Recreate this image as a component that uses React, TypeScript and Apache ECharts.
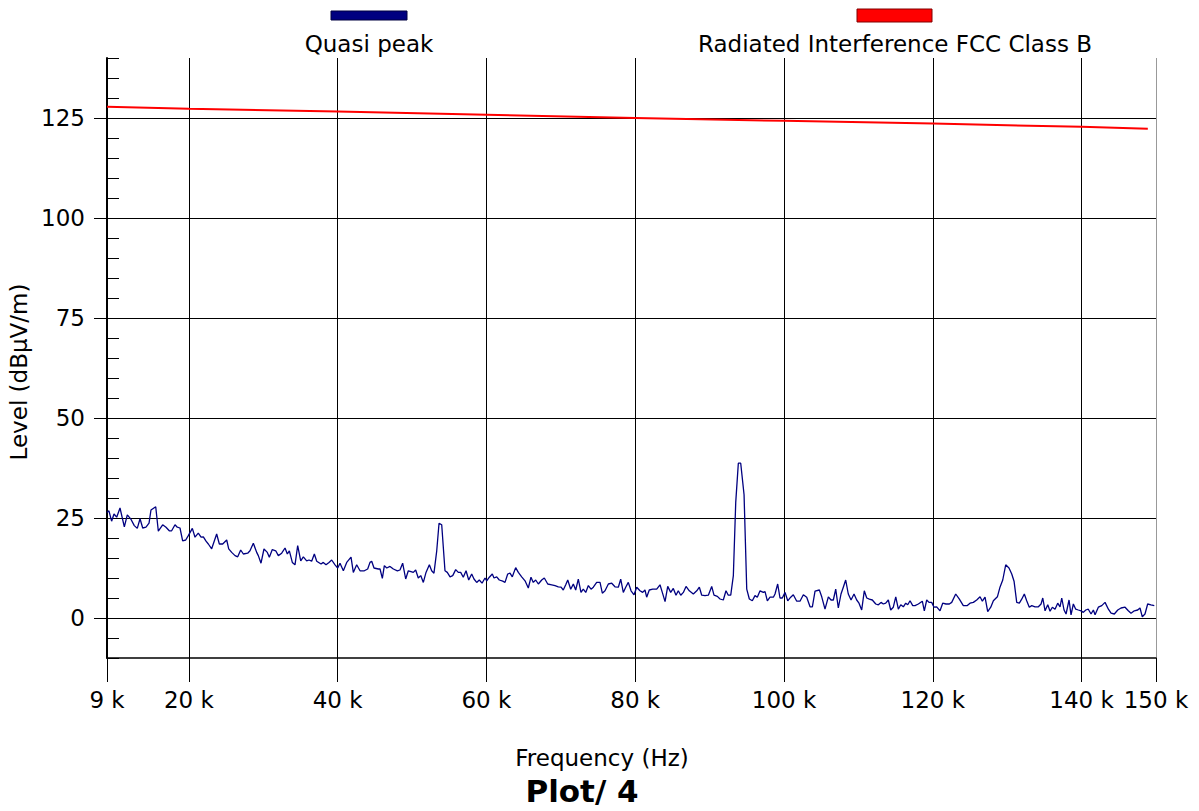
import React, { useEffect, useRef } from "react";
import * as echarts from "echarts";

// Frequency in kHz, level in dBµV/m
const quasiPeak: [number, number][] = [
  [9, 26.4], [9.26, 26.8], [9.62, 24.2], [9.94, 26], [10.3, 25.2], [10.75, 27.5], [11.33, 22.8], [11.73, 25.8], [12.18, 24.8], [12.67, 23.1],
  [13.07, 22.4], [13.44, 24.8], [13.8, 22.5], [14.24, 22.7], [14.65, 23.7], [14.91, 27], [15.55, 27.8], [15.9, 21.7], [16.48, 23.3], [16.93, 22.7],
  [17.37, 21.8], [17.69, 21.8], [18.14, 23.3], [18.45, 22.7], [18.81, 22.5], [19.17, 19.3], [19.58, 19.5], [19.93, 20.6], [20.47, 22.4], [20.83, 20.2],
  [21.27, 21.2], [21.64, 20.2], [21.95, 20.3], [22.31, 19.2], [22.62, 18.5], [23.07, 17.3], [23.74, 21], [24.1, 18.5], [24.55, 18.5], [25.09, 19.5],
  [25.36, 17.3], [25.76, 16.4],
  [26.21, 15.6], [26.57, 15.3], [26.97, 17], [27.33, 16], [27.91, 16.2], [28.22, 16.8], [28.67, 18.7], [29.12, 16.4], [29.34, 15.6], [29.7, 13.7],
  [30.1, 17.25], [30.55, 16.4], [30.82, 15.2], [31.22, 17.1], [31.68, 16.8], [32.03, 15.6], [32.48, 16.2], [32.93, 17.5], [33.24, 16], [33.51, 16.8],
  [33.91, 13.9], [34.27, 13.3], [34.63, 18.1], [35.04, 14.3], [35.39, 15.3], [35.84, 14.3], [36.15, 14.5], [36.51, 14.2], [36.87, 16], [37.19, 14.2],
  [37.77, 13.5], [38.07, 13.9], [38.44, 13.3], [38.84, 13.9], [39.2, 14.5], [39.65, 13.3], [40.01, 12.5], [40.32, 13.7], [40.77, 11.8], [41.22, 13.9],
  [41.8, 15.2], [42.11, 11.4], [42.56, 13.3], [43.01, 11.8], [43.59, 11.8], [44.04, 12.25],
  [44.35, 13.9], [44.58, 14.2], [44.89, 12.5], [45.47, 12.25], [45.7, 12.25], [46.01, 9.9], [46.28, 13.1], [46.6, 12.5], [47.04, 12.9], [47.49, 12.25],
  [48.03, 11.8], [48.38, 12], [48.74, 13.7], [49.15, 9.75], [49.5, 11.8], [49.86, 11.6], [50.17, 11.4], [50.49, 12], [50.84, 10], [51.17, 10.6],
  [51.52, 8.9], [51.88, 11.4], [52.33, 13.3], [52.64, 11.8], [52.95, 11.2], [53.32, 16.8], [53.63, 23.7], [53.99, 23.3], [54.43, 11.8], [54.74, 11.4],
  [55.11, 10.3], [55.47, 10.6], [55.87, 12.1], [56.22, 11.4], [56.54, 11.4], [56.89, 10.2], [57.26, 11.8], [57.62, 9.5], [58.02, 11], [58.33, 9.75],
  [58.69, 8.9], [59.04, 9.5], [59.41, 8.7], [59.81, 10], [60.04, 9.3], [60.39, 10.2], [60.79, 11], [61.02, 10], [61.38, 10.3], [61.73, 9.5],
  [62.19, 9.2],
  [62.5, 8.9], [62.86, 11], [63.17, 11.2], [63.48, 10.3], [63.93, 12.6], [64.29, 11.4], [64.74, 10.3], [65.19, 9.3], [65.63, 7.5], [65.99, 10.2],
  [66.3, 8.9], [66.62, 9.5], [66.98, 8.5], [67.43, 9.5], [67.78, 10], [68.24, 8.5], [68.78, 8.3], [69.22, 8.1], [69.66, 7.8], [70.03, 7.7],
  [70.33, 7], [70.66, 8.3], [70.93, 9.5], [71.33, 7.2], [71.68, 8.5], [72, 7], [72.35, 9.7], [72.71, 6.4], [73.02, 7.2], [73.35, 6.4],
  [73.7, 8.1], [74.06, 7.2], [74.37, 7.7], [74.82, 8.9], [75.27, 8.9], [75.58, 6.2], [75.94, 6.8], [76.39, 8.5], [76.84, 8.7], [77.28, 7.8],
  [77.73, 7.7], [78.05, 9.7], [78.4, 6.4], [78.72, 7.7], [79.07, 8.9], [79.44, 6.8], [79.84, 5.8], [80.2, 7.7],
  [80.64, 6.8], [81, 6.4], [81.31, 7], [81.54, 5.2], [81.89, 7], [82.35, 7.2], [82.89, 7.2], [83.33, 8.3], [83.64, 6.4], [84.01, 4.1],
  [84.37, 7.9], [84.77, 6.4], [85.12, 7.4], [85.48, 5.7], [85.79, 6.8], [86.12, 5.7], [86.47, 6.4], [86.83, 7.9], [87.27, 6.8], [87.81, 6],
  [88.27, 6.8], [88.62, 7.7], [88.94, 5.7], [89.38, 5.6], [89.83, 5.7], [90.28, 7.9], [90.59, 5.7], [91.04, 5.4], [91.4, 4.75], [91.84, 4.5],
  [92.2, 6.8], [92.51, 5.7], [92.84, 5.7], [93.19, 10.6], [93.51, 28.9], [93.86, 38.7], [94.18, 38.7], [94.63, 30.8], [94.99, 7.2], [95.34, 4.75],
  [95.74, 4.3], [96.1, 5.6], [96.41, 5.2], [96.78, 6.8], [97.22, 6.4], [97.45, 6.6], [97.76, 4.3], [98.12, 5.2], [98.57, 5.2],
  [98.79, 6], [99.15, 8.5], [99.46, 5], [99.77, 5], [100.14, 6.4], [100.5, 4.3], [100.9, 5.2], [101.25, 5.8], [101.71, 4.2], [102.15, 4.2],
  [102.6, 5.8], [103.05, 5.2], [103.5, 2.8], [103.81, 2.8], [104.17, 6.7], [104.75, 7], [105.07, 5.3], [105.51, 2.2], [105.96, 5.3], [106.32, 4.5],
  [106.63, 4.5], [106.95, 7.2], [107.3, 2.5], [107.66, 6], [107.97, 7.7], [108.29, 9.5], [108.64, 6], [109.01, 4.5], [109.41, 6], [109.77, 4.5],
  [110.08, 3.7], [110.44, 2], [110.79, 6.8], [111.12, 5], [111.47, 4.7], [111.87, 4.5], [112.33, 3.5], [112.68, 3.3], [113.04, 3.9], [113.35, 3.5],
  [113.67, 3.7], [114.02, 4.5], [114.34, 2], [114.69, 2.7], [115.02, 5.3], [115.37, 2.2], [115.69, 3.3], [116.04, 2.8], [116.36, 3.7], [116.63, 3.3],
  [116.94, 4.3], [117.3, 3.1], [117.61, 3.1], [118.06, 3.5], [118.59, 4.2], [118.86, 1.8], [119.18, 4.5], [119.49, 3.9], [119.85, 3.9], [120.16, 2.7],
  [120.52, 2.8], [120.97, 1.8], [121.33, 3.7], [121.77, 3.5], [122.22, 3.5], [122.54, 3.9], [123.08, 6], [123.57, 4.7], [124.1, 3.1], [124.64, 3.1],
  [125, 3.7], [125.45, 3.9], [125.9, 4.5], [126.35, 5.3], [126.66, 4.2], [127.02, 5.2], [127.38, 1.6], [127.79, 2.7], [128.14, 4.3], [128.68, 5.3],
  [129.03, 7.7], [129.4, 9.5], [129.8, 13.3], [130.24, 12.5], [130.61, 11], [130.92, 9.2], [131.28, 3.9], [131.63, 3.7], [131.95, 4.7], [132.3, 6],
  [132.62, 4.3], [132.97, 2.7], [133.3, 3.1], [133.74, 2.8], [134.19, 2.8], [134.55, 3.5], [134.78, 5],
  [135.09, 1.8], [135.45, 3.3], [135.76, 1.7], [136.07, 2.7], [136.43, 2.2], [136.79, 3.7], [137.1, 2.8], [137.33, 5], [137.64, 2], [137.91, 1],
  [138.31, 4.5], [138.58, 0.8], [138.89, 3.5], [139.21, 2.2], [139.56, 2], [139.92, 1.8], [140.23, 1.4], [140.56, 2], [140.9, 2.2], [141.27, 1],
  [141.58, 2], [141.81, 0.8], [142.25, 2.7], [142.71, 3.1], [143.15, 3.9], [143.6, 2.2], [143.96, 1.2], [144.4, 1], [144.86, 2], [145.3, 2.5],
  [145.84, 2.7], [146.28, 1.8], [146.64, 1.2], [147.09, 1.8], [147.54, 2], [147.85, 2.5], [148.16, 0.3], [148.52, 1], [148.88, 3.5], [149.32, 3.3],
  [149.77, 3.1],
];

const limitFreq = [9, 20, 40, 60, 80, 100, 120, 140, 148.9];
const limitLevel = [127.8, 127.3, 126.6, 125.8, 125.0, 124.3, 123.6, 122.8, 122.3];

const xTicks = [9, 20, 40, 60, 80, 100, 120, 140, 150];
const yTicks = [0, 25, 50, 75, 100, 125];

const seriesNames = ["Quasi peak", "Radiated Interference FCC Class B"];
const FONT = "DejaVu Sans, Verdana, sans-serif";

export default function App() {
  const ref = useRef<HTMLDivElement>(null);
  useEffect(() => {
    if (!ref.current) return;
    const chart = echarts.init(ref.current, undefined, { renderer: "svg" });
    const limitData = limitFreq.map((f, i) => [f, limitLevel[i]]);
    chart.setOption({
      animation: false,
      backgroundColor: "#ffffff",
      grid: { left: 107, right: 43, top: 58, bottom: 153, containLabel: false },
      xAxis: {
        type: "value",
        min: 9,
        max: 150,
        axisLine: { onZero: false, lineStyle: { color: "#000", width: 1.5 } },
        axisTick: { show: true, customValues: xTicks, length: 24, lineStyle: { color: "#000", width: 1 } },
        axisLabel: {
          customValues: xTicks,
          formatter: (v: number) => `${v} k`,
          color: "#000",
          fontSize: 23,
          fontFamily: FONT,
          margin: 30,
        },
        splitLine: {
          show: true,
          lineStyle: { color: ["#000", "#000", "#000", "#000", "#000", "#000", "#000", "#000", "#999"], width: 1 },
        },
      },
      yAxis: [
        {
          type: "value",
          min: -10,
          max: 140,
          axisLine: { show: true, onZero: false, lineStyle: { color: "#000", width: 2 } },
          axisTick: { show: true, customValues: yTicks, length: 13, lineStyle: { color: "#000" } },
          axisLabel: {
            customValues: yTicks,
            color: "#000",
            fontSize: 23,
            fontFamily: FONT,
            margin: 22,
          },
          splitLine: { show: true, lineStyle: { color: "#000", width: 1 } },
        },
        {
          type: "value",
          min: -10,
          max: 140,
          interval: 5,
          position: "left",
          axisLine: { show: false, onZero: false },
          axisTick: { show: true, inside: true, length: 12, lineStyle: { color: "#000" } },
          axisLabel: { show: false },
          splitLine: { show: false },
        },
      ],
      graphic: [
        { type: "rect", shape: { x: 331, y: 11, width: 76, height: 9 }, style: { fill: "#000080", stroke: "#000040", lineWidth: 1 } },
        {
          type: "text",
          x: 369,
          y: 44,
          style: { text: seriesNames[0], font: `23px ${FONT}`, fill: "#000", align: "center", verticalAlign: "middle" },
        },
        { type: "rect", shape: { x: 857, y: 9, width: 75, height: 13 }, style: { fill: "#ff0000", stroke: "#800000", lineWidth: 1 } },
        {
          type: "text",
          x: 895,
          y: 44,
          style: { text: seriesNames[1], font: `23px ${FONT}`, fill: "#000", align: "center", verticalAlign: "middle" },
        },
        {
          type: "text",
          x: 19,
          y: 372,
          rotation: Math.PI / 2,
          style: { text: "Level (dBµV/m)", font: `23px ${FONT}`, fill: "#000", align: "center", verticalAlign: "middle" },
        },
        {
          type: "text",
          x: 602,
          y: 758,
          style: { text: "Frequency (Hz)", font: `23px ${FONT}`, fill: "#000", align: "center", verticalAlign: "middle" },
        },
        {
          type: "text",
          x: 582,
          y: 791,
          style: { text: "Plot/ 4", font: `bold 31px ${FONT}`, fill: "#000", align: "center", verticalAlign: "middle" },
        },
      ],
      series: [
        {
          name: seriesNames[1],
          type: "line",
          data: limitData,
          showSymbol: false,
          lineStyle: { color: "#ff0000", width: 2 },
          itemStyle: { color: "#ff0000" },
          z: 3,
        },
        {
          name: seriesNames[0],
          type: "line",
          data: quasiPeak,
          showSymbol: false,
          lineStyle: { color: "#000080", width: 1.3 },
          itemStyle: { color: "#000080" },
          z: 4,
        },
      ],
    });
    return () => chart.dispose();
  }, []);
  return (
    <div
      ref={ref}
      style={{ position: "fixed", left: 0, top: 0, width: 1199, height: 811, background: "#fff" }}
    />
  );
}
